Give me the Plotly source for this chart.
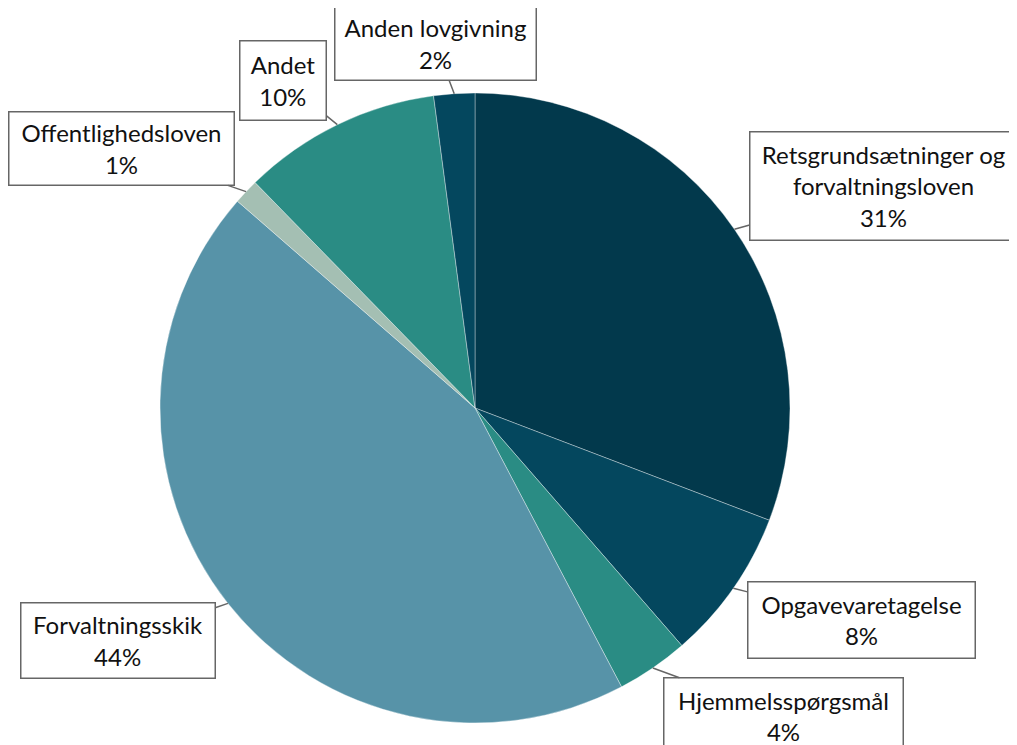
import math
import plotly.graph_objects as go

# ---- data ----
categories = ["Retsgrundsætninger og<br>forvaltningsloven", "Opgavevaretagelse", "Hjemmelsspørgsmål",
              "Forvaltningsskik", "Offentlighedsloven", "Andet", "Anden lovgivning"]
values = [30.8, 7.8, 3.7, 44.1, 1.3, 10.2, 2.1]
colors = ["#02394C", "#04475E", "#2A8C84", "#5793A8", "#A4BFB3", "#2A8C84", "#04475E"]

# label box layout (pixel offsets from callout tip, box sizes)
label_ax = [149, 128, 131, -110, -125, -54, -19]
label_ay = [-43, 32, 48, 37, -43, -44, -50]
box_w = [266, 226, 238, 193, 224, 85, 200]
box_h = [107, 75, 75, 74, 72, 78, 72]

OFF = 8  # page body margin
W, H = 1017 - OFF, 745 - OFF
cx, cy, R = 475 - OFF, 408 - OFF, 315  # pie centre / radius in figure pixels

fig = go.Figure()
fig.add_trace(go.Pie(
    labels=categories, values=values, sort=False, direction="clockwise", rotation=0,
    marker=dict(colors=colors, line=dict(color="rgba(255,255,255,0.45)", width=0.8)),
    textinfo="none", hoverinfo="label+percent", showlegend=False,
    domain=dict(x=[(cx - R) / W, (cx + R) / W], y=[1 - (cy + R) / H, 1 - (cy - R) / H]),
))

total = sum(values)
cum = 0.0
for i, (lab, v) in enumerate(zip(categories, values)):
    mid = (cum + v / 2) / total * 2 * math.pi
    cum += v
    px = cx + R * math.sin(mid)
    py = cy - R * math.cos(mid)
    fig.add_annotation(
        x=px / W, y=1 - py / H, xref="paper", yref="paper",
        ax=label_ax[i], ay=label_ay[i],
        text=f"{lab}<br>{round(v / total * 100)}%",
        showarrow=True, arrowhead=0, arrowwidth=1.5, arrowcolor="#666666", standoff=0,
        bordercolor="#666666", borderwidth=1.5, borderpad=0, bgcolor="white",
        width=box_w[i], height=box_h[i], align="center",
        font=dict(family="Lato, sans-serif", size=24, color="#111111"),
    )

fig.update_layout(width=W, height=H, margin=dict(l=0, r=0, t=0, b=0),
                  paper_bgcolor="white", plot_bgcolor="white")
fig.write_html("out.html")
